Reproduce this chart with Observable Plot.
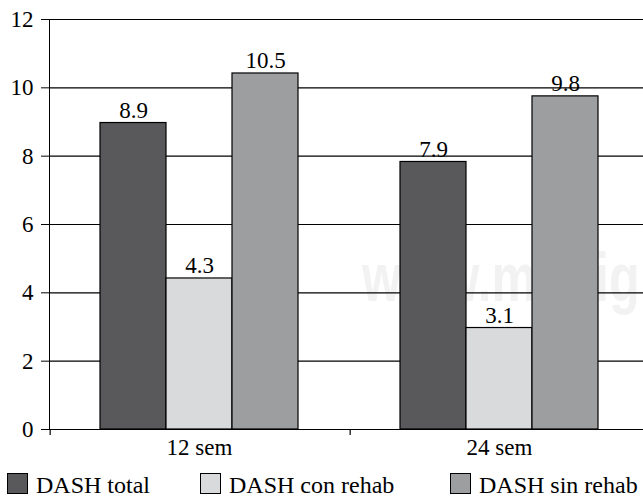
<!DOCTYPE html>
<html><head><meta charset="utf-8">
<script src="https://cdn.jsdelivr.net/npm/d3@7"></script>
<script src="https://cdn.jsdelivr.net/npm/@observablehq/plot@0.6"></script>
<style>
html,body{margin:0;padding:0;background:#fff;overflow:hidden;}
#wrap{position:relative;width:643px;height:498px;overflow:hidden;font-family:"Liberation Serif","Times New Roman",Times,serif;}
#wm{position:absolute;left:362px;top:238px;font-family:"Liberation Sans",Arial,sans-serif;font-weight:bold;font-size:68px;color:#f2f2f2;white-space:nowrap;z-index:0;transform:scaleX(0.74);transform-origin:0 0;}
#chart{position:absolute;left:0;top:0;z-index:1;}
#legend{position:absolute;left:0;top:472px;width:643px;height:24px;font-size:24px;line-height:22px;z-index:1;color:#000;}
.item{position:absolute;top:0;display:flex;align-items:flex-end;gap:8px;white-space:nowrap;}
.item span{position:relative;top:2px;}
.sw{width:21px;height:21px;border:1.3px solid #000;box-sizing:border-box;}
</style>
</head><body>
<div id="wrap">
  <div id="wm">www.medigraphic.org.mx</div>
  <div id="chart"></div>
  <div id="legend"></div>
</div>
<script>
// ---- data ----
const groups = ["12 sem", "24 sem"];
const series = ["DASH total", "DASH con rehab", "DASH sin rehab"];
const colors = ["#59595b", "#d9dadc", "#9d9ea0"];
// bar heights as drawn in the picture
const values12 = [8.97, 4.42, 10.42];
const values24 = [7.83, 2.97, 9.75];
// printed value labels
const labels12 = ["8.9", "4.3", "10.5"];
const labels24 = ["7.9", "3.1", "9.8"];
const yTicks = [0, 2, 4, 6, 8, 10, 12];

const valuesByGroup = [values12, values24];
const labelsByGroup = [labels12, labels24];
const data = [];
groups.forEach((g, gi) => series.forEach((s, si) => data.push({
  group: g, series: s, value: valuesByGroup[gi][si], label: labelsByGroup[gi][si]
})));

// ---- layout ----
const W = 649, H = 460, ML = 49, MR = 0, MT = 19, MB = 31;
const pOuter = 0.75;
const facetW = (W - ML - MR) / groups.length;
const step = facetW / (series.length + 2 * pOuter);
const tickOffset = -(pOuter * step + step / 2);
const FONT = '"Liberation Serif","Times New Roman",Times,serif';

const chart = Plot.plot({
  width: W, height: H,
  marginLeft: ML, marginRight: MR, marginTop: MT, marginBottom: MB,
  style: {fontFamily: FONT, fontSize: "23px",
          background: "transparent", color: "#000", maxWidth: "none", overflow: "visible"},
  fx: {domain: groups, padding: 0, label: null, axis: "bottom", tickSize: 0, tickPadding: 9},
  x: {domain: series, paddingInner: 0, paddingOuter: pOuter, axis: null},
  y: {domain: [0, 12], ticks: yTicks, tickSize: 8, tickPadding: 8, label: null, line: true},
  color: {domain: series, range: colors},
  marks: [
    Plot.ruleY(yTicks.filter(d => d > 0), {stroke: "#000", strokeWidth: 1.2}),
    Plot.barY(data, {fx: "group", x: "series", y: "value", fill: "series", stroke: "#000", strokeWidth: 1.2}),
    Plot.text(data, {fx: "group", x: "series", y: "value", text: "label", lineAnchor: "bottom", dy: -5,
      fill: "#000", fontFamily: FONT, fontSize: 23}),
    Plot.ruleY([0], {stroke: "#000", strokeWidth: 1.2}),
    Plot.ruleX(groups.map(g => ({group: g})), {fx: "group", x: () => series[0], y1: 0, y2: 0,
      insetBottom: -6, dx: tickOffset, stroke: "#000", strokeWidth: 1.2})
  ]
});
document.getElementById("chart").appendChild(chart);

// ---- legend ----
const legend = document.getElementById("legend");
const legendLeft = [7, 200, 450];
series.forEach((s, i) => {
  const item = document.createElement("div");
  item.className = "item";
  item.style.left = legendLeft[i] + "px";
  const sw = document.createElement("div");
  sw.className = "sw";
  sw.style.background = colors[i];
  const t = document.createElement("span");
  t.textContent = s;
  item.appendChild(sw); item.appendChild(t);
  legend.appendChild(item);
});
</script>
</body></html>
